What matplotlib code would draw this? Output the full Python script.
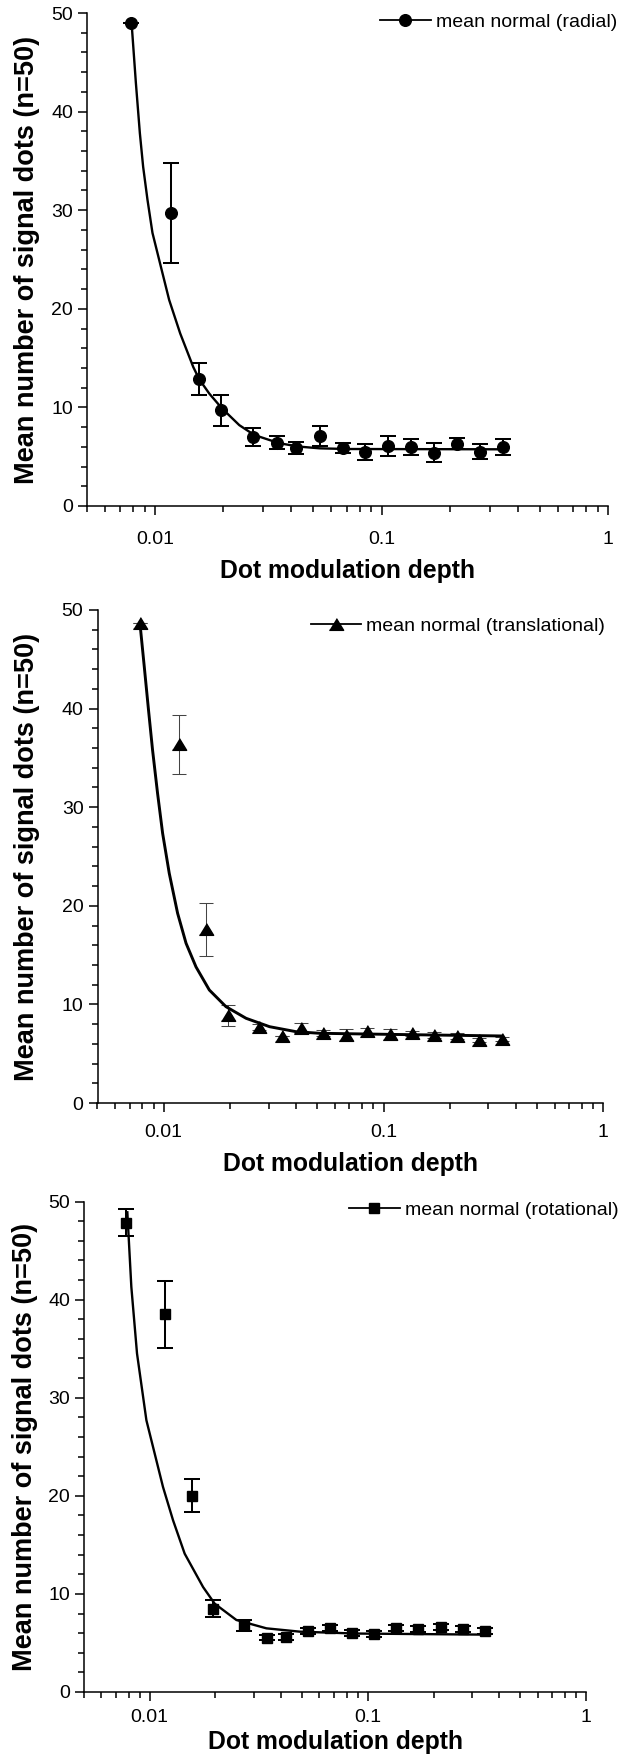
import numpy as np
import matplotlib
matplotlib.use("Agg")
import matplotlib.pyplot as plt
from matplotlib.lines import Line2D
from matplotlib.ticker import MultipleLocator, LogLocator, FixedLocator, FixedFormatter, NullFormatter

plt.rcParams['font.family'] = ['Liberation Sans', 'DejaVu Sans']

# dot modulation depths (same for all three conditions)
depth = [0.0078, 0.0117, 0.0156, 0.0196, 0.0271, 0.0345, 0.0420, 0.0532,
         0.0673, 0.0843, 0.107, 0.135, 0.170, 0.216, 0.272, 0.344]

# radial
radial_mean = [49.0, 29.7, 12.9, 9.7, 7.0, 6.4, 5.9, 7.1, 5.9, 5.5, 6.1, 6.0, 5.4, 6.3, 5.5, 6.0]
radial_err = [0.0, 5.1, 1.65, 1.6, 0.95, 0.65, 0.6, 1.0, 0.5, 0.8, 1.0, 0.8, 0.95, 0.55, 0.75, 0.8]
radial_fit_x = [0.00789, 0.00822, 0.00856, 0.00885, 0.00925, 0.00973, 0.01059, 0.01153, 0.0129,
                0.01473, 0.01566, 0.01734, 0.01973, 0.02353, 0.0274, 0.0354, 0.0434, 0.0532,
                0.070, 0.348]
radial_fit_y = [48.6, 42.9, 37.8, 34.4, 31.05, 27.7, 24.3, 20.9, 17.5,
                14.1, 12.85, 11.4, 9.9, 8.2, 7.2, 6.36, 6.02, 5.85,
                5.78, 5.75]

# translational
trans_mean = [48.7, 36.4, 17.6, 8.9, 7.7, 6.75, 7.6, 7.1, 6.9, 7.3, 6.95, 7.05, 6.9, 6.75, 6.35, 6.5]
trans_err = [0.0, 3.0, 2.7, 1.05, 0.3, 0.0, 0.5, 0.3, 0.6, 0.3, 0.6, 0.3, 0.3, 0.3, 0.2, 0.2]
trans_fit_x = [0.0078, 0.00816, 0.00853, 0.0089, 0.00938, 0.00989, 0.0106, 0.01157, 0.01264,
               0.01403, 0.01613, 0.0192, 0.0237, 0.0303, 0.04005, 0.0512, 0.1145, 0.3404]
trans_fit_y = [48.65, 44.25, 39.86, 35.8, 31.4, 27.35, 23.3, 19.24, 16.2,
               13.8, 11.46, 9.77, 8.59, 7.74, 7.23, 7.07, 6.95, 6.8]

# rotational
rot_mean = [47.85, 38.5, 20.0, 8.5, 6.8, 5.55, 5.65, 6.25, 6.5, 6.05, 5.95, 6.55, 6.4, 6.6, 6.4, 6.2]
rot_err = [1.4, 3.4, 1.7, 0.85, 0.55, 0.3, 0.3, 0.3, 0.3, 0.3, 0.3, 0.3, 0.3, 0.3, 0.3, 0.3]
rot_fit_x = [0.0079, 0.00824, 0.00875, 0.00966, 0.01151, 0.0128, 0.01447, 0.01757, 0.01987,
             0.02497, 0.03429, 0.0488, 0.0877, 0.3365]
rot_fit_y = [48.9, 41.3, 34.5, 27.7, 20.9, 17.5, 14.1, 10.7, 9.0,
             7.34, 6.49, 6.15, 5.96, 5.85]

W, H = 620, 1762
fig = plt.figure(figsize=(W / 100, H / 100), dpi=100)

tri = [(-1, -0.82), (1, -0.82), (0, 0.82)]

panels = [
    dict(box=(87, 608, 13, 506), mean=radial_mean, err=radial_err, fx=radial_fit_x, fy=radial_fit_y,
         marker='o', ms=8.4, elw=1.45, ecol='black', cap=6.0, flw=1.7, label='mean normal (radial)',
         leg=(1.017, 0.982), ylab_x=-0.090, tpad=11.5, xlpad=8),
    dict(box=(97.5, 603.4, 610, 1103), mean=trans_mean, err=trans_err, fx=trans_fit_x, fy=trans_fit_y,
         marker=tri, ms=10.3, elw=0.75, ecol='#444444', cap=4.8, flw=2.1, label='mean normal (translational)',
         leg=(1.003, 0.9675), ylab_x=-0.1136, tpad=8.7, xlpad=8),
    dict(box=(84, 586, 1201.5, 1692), mean=rot_mean, err=rot_err, fx=rot_fit_x, fy=rot_fit_y,
         marker='s', ms=7.9, elw=1.45, ecol='black', cap=5.5, flw=1.7, label='mean normal (rotational)',
         leg=(1.064, 0.983), ylab_x=-0.0916, tpad=6, xlpad=3),
]

for p in panels:
    l, r, t, b = p['box']
    ax = fig.add_axes([l / W, 1 - b / H, (r - l) / W, (b - t) / H])

    ax.errorbar(depth, p['mean'], yerr=p['err'], fmt='none', ecolor=p['ecol'],
                elinewidth=p['elw'], capsize=p['cap'], capthick=p['elw'], zorder=2)
    ax.plot(depth, p['mean'], linestyle='none', marker=p['marker'], ms=p['ms'],
            color='black', zorder=3)
    ax.plot(p['fx'], p['fy'], color='black', lw=p['flw'], zorder=2.5,
            solid_joinstyle='round')

    ax.set_xscale('log')
    ax.set_xlim(0.005, 1)
    ax.set_ylim(0, 50)
    ax.xaxis.set_major_locator(FixedLocator([0.01, 0.1, 1]))
    ax.xaxis.set_major_formatter(FixedFormatter(['0.01', '0.1', '1']))
    ax.xaxis.set_minor_locator(LogLocator(base=10, subs=np.arange(2, 10)))
    ax.xaxis.set_minor_formatter(NullFormatter())
    ax.yaxis.set_major_locator(MultipleLocator(10))
    ax.yaxis.set_minor_locator(MultipleLocator(2))

    for s in ['top', 'right']:
        ax.spines[s].set_visible(False)
    for s in ['left', 'bottom']:
        ax.spines[s].set_linewidth(1.1)

    ax.tick_params(which='major', direction='out', length=6.3, width=1.1, labelsize=14)
    ax.tick_params(which='minor', direction='out', length=4, width=1.1)
    ax.tick_params(axis='y', which='major', pad=3.8)
    ax.tick_params(axis='x', which='major', pad=p['tpad'])

    ax.set_xlabel('Dot modulation depth', fontsize=17.8, fontweight='bold', labelpad=p['xlpad'])
    ax.set_ylabel('Mean number of signal dots (n=50)', fontsize=19.5, fontweight='bold')
    ax.yaxis.set_label_coords(p['ylab_x'], 0.5)

    handle = Line2D([], [], color='black', lw=1.3, marker=p['marker'], ms=p['ms'])
    ax.legend([handle], [p['label']], loc='center right', bbox_to_anchor=p['leg'],
              frameon=False, fontsize=14, borderpad=0, borderaxespad=0,
              handlelength=2.6, handletextpad=0.25)

fig.savefig('out.png', dpi=100)
